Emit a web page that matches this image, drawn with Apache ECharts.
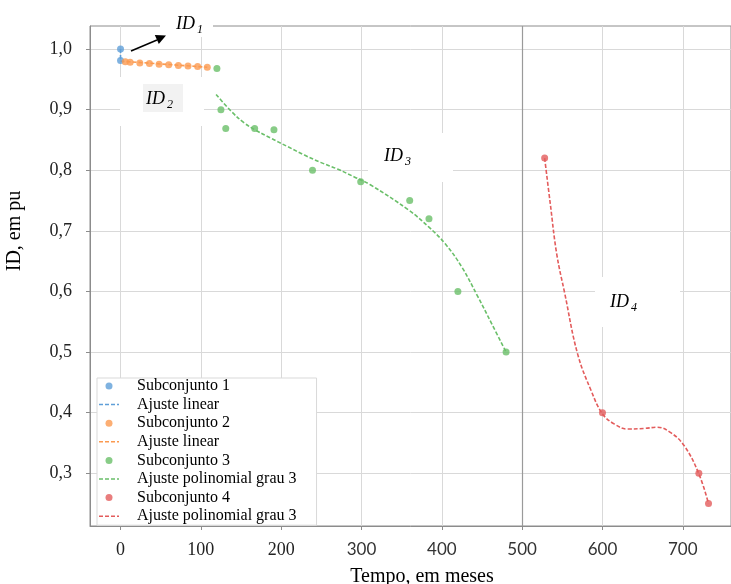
<!DOCTYPE html>
<html>
<head>
<meta charset="utf-8">
<script src="https://cdn.jsdelivr.net/npm/echarts@6/dist/echarts.min.js"></script>
<style>
  html, body { margin: 0; padding: 0; background: #fff; }
  #chart { width: 731px; height: 584px; }
</style>
</head>
<body>
<div id="chart"></div>
<script>
// Subconjunto 1
const sub1X = [0, 0];
const sub1Y = [1.0, 0.981];
const fit1X = [0, 0];
const fit1Y = [1.0, 0.981];

// Subconjunto 2
const sub2X = [6, 12, 24, 36, 48, 60, 72, 84, 96, 108];
const sub2Y = [0.979, 0.978, 0.977, 0.976, 0.975, 0.974, 0.973, 0.972, 0.971, 0.970];
const fit2X = [0, 108];
const fit2Y = [0.980, 0.970];

// Subconjunto 3
const sub3X = [120, 125, 131, 167, 191, 239, 299, 360, 384, 420, 480];
const sub3Y = [0.968, 0.900, 0.869, 0.869, 0.867, 0.800, 0.781, 0.750, 0.720, 0.600, 0.500];
const fit3X = [119, 138, 154, 167, 187, 208, 229, 249, 270, 291, 311, 359, 384, 404, 425, 445, 462, 480];
const fit3Y = [0.925, 0.897, 0.878, 0.867, 0.853, 0.839, 0.825, 0.813, 0.802, 0.789, 0.776, 0.734, 0.706, 0.679, 0.640, 0.591, 0.547, 0.500];

// Subconjunto 4
const sub4X = [528, 600, 720, 732];
const sub4Y = [0.820, 0.400, 0.300, 0.250];
const fit4X = [528, 535, 543, 553, 569, 586, 600, 615, 631, 652, 668, 685, 702, 720, 732];
const fit4Y = [0.820, 0.745, 0.662, 0.597, 0.497, 0.436, 0.398, 0.381, 0.373, 0.374, 0.376, 0.367, 0.345, 0.299, 0.250];

// eixos
const xTicks = [0, 100, 200, 300, 400, 500, 600, 700];
const yTicks = [0.3, 0.4, 0.5, 0.6, 0.7, 0.8, 0.9, 1.0];

const pairs = (xs, ys) => xs.map((x, i) => [x, ys[i]]);

const cBlue = '#5f9fd8';
const cOrange = '#fb9a50';
const cGreen = '#6abf69';
const cRed = '#e35c5c';

const serif = '"Liberation Serif", "Times New Roman", serif';
// icone tracejado da legenda
const dashIcon = 'path://M0,0h4v1.5h-4z M6,0h4v1.5h-4z M12,0h4v1.5h-4z M18,0h2v1.5h-2z';

const scatter = (name, xs, ys, color) => ({
  name, type: 'scatter', data: pairs(xs, ys), symbolSize: 7, z: 3,
  itemStyle: { color }
});
const fit = (name, xs, ys, color, smooth) => ({
  name, type: 'line', data: pairs(xs, ys), symbol: 'none', smooth, z: 2,
  itemStyle: { color },
  lineStyle: { color, width: 1.6, type: [4, 2] }
});

// rotulo ID com subscrito
const idLabel = (left, mid, sub) => [
  { type: 'text', z: 10, x: left, y: mid,
    style: { text: 'ID', font: 'italic 18px ' + serif, fill: '#000', align: 'left', verticalAlign: 'middle' } },
  { type: 'text', z: 10, x: left + 21, y: mid + 6,
    style: { text: sub, font: 'italic 12px ' + serif, fill: '#000', align: 'left', verticalAlign: 'middle' } }
];
const mask = (x, y, w, h, fill) => ({
  type: 'rect', z: 1, shape: { x, y, width: w, height: h }, style: { fill: fill || '#fff' }
});

const chart = echarts.init(document.getElementById('chart'));

const option = {
  animation: false,
  backgroundColor: '#fff',
  grid: {
    left: 90, right: -3, top: 26, bottom: 58,
    show: true, borderColor: '#8c8c8c', borderWidth: 1
  },
  legend: {
    orient: 'vertical',
    left: 97, top: 378,
    padding: [0, 20, 1, 2],
    itemWidth: 20, itemHeight: 7, itemGap: 2.6,
    backgroundColor: '#fff',
    borderColor: '#d9d9d9', borderWidth: 1,
    textStyle: { fontFamily: serif, fontSize: 16, color: '#000', padding: [0, 0, 0, 13] },
    data: [
      { name: 'Subconjunto 1', icon: 'circle' },
      { name: 'Ajuste linear', icon: dashIcon },
      { name: 'Subconjunto 2', icon: 'circle' },
      { name: 'Ajuste linear\u200b', icon: dashIcon },
      { name: 'Subconjunto 3', icon: 'circle' },
      { name: 'Ajuste polinomial grau 3', icon: dashIcon },
      { name: 'Subconjunto 4', icon: 'circle' },
      { name: 'Ajuste polinomial grau 3\u200b', icon: dashIcon }
    ]
  },
  xAxis: {
    type: 'value', min: -38, max: 760,
    axisLine: { onZero: false, lineStyle: { color: '#8c8c8c', width: 1 } },
    axisTick: { show: true, length: 4, customValues: xTicks, lineStyle: { color: '#8c8c8c' } },
    splitLine: { show: true, lineStyle: { color: '#d9d9d9' } },
    axisLabel: {
      customValues: xTicks, margin: 15,
      formatter: v => (v <= 200 ? '{s|' + v + '}' : '{l|' + v + '}'),
      rich: {
        s: { fontFamily: serif, fontSize: 18, color: '#222' },
        l: { fontFamily: 'Lato, sans-serif', fontSize: 17, color: '#333' }
      }
    }
  },
  yAxis: {
    type: 'value', min: 0.213, max: 1.038,
    axisLine: { show: true, onZero: false, lineStyle: { color: '#8c8c8c', width: 1 } },
    axisTick: { show: true, length: 4, customValues: yTicks, lineStyle: { color: '#8c8c8c' } },
    splitLine: { show: true, lineStyle: { color: '#d9d9d9' } },
    axisLabel: {
      customValues: yTicks, margin: 18,
      fontFamily: serif, fontSize: 18, color: '#222',
      formatter: v => v.toFixed(1).replace('.', ',')
    }
  },
  series: [
    scatter('Subconjunto 1', sub1X, sub1Y, cBlue),
    fit('Ajuste linear', fit1X, fit1Y, cBlue, false),
    scatter('Subconjunto 2', sub2X, sub2Y, cOrange),
    fit('Ajuste linear\u200b', fit2X, fit2Y, cOrange, false),
    scatter('Subconjunto 3', sub3X, sub3Y, cGreen),
    Object.assign(fit('Ajuste polinomial grau 3', fit3X, fit3Y, cGreen, 0.4), {
      markLine: {
        silent: true, symbol: 'none', label: { show: false },
        lineStyle: { color: '#9a9a9a', type: 'solid', width: 1.2 },
        data: [{ xAxis: 500 }]
      }
    }),
    scatter('Subconjunto 4', sub4X, sub4Y, cRed),
    fit('Ajuste polinomial grau 3\u200b', fit4X, fit4Y, cRed, 0.4)
  ],
  graphic: [
    mask(160, 4, 53, 33),
    mask(120, 77, 84, 49),
    mask(143, 84, 40, 28, '#f2f2f2'),
    mask(368, 133, 85, 49),
    mask(595, 277, 85, 50),
    ...idLabel(176, 24, '1'),
    ...idLabel(146, 99, '2'),
    ...idLabel(384, 156, '3'),
    ...idLabel(610, 302, '4'),
    // seta ID1
    { type: 'line', z: 10, shape: { x1: 131, y1: 51, x2: 157, y2: 40 },
      style: { stroke: '#000', lineWidth: 1.5 } },
    { type: 'polygon', z: 10, shape: { points: [[166, 35.5], [158.8, 44.1], [154.8, 34.9]] },
      style: { fill: '#000' } },
    // titulos dos eixos
    { type: 'text', z: 10, x: 15, y: 231, rotation: Math.PI / 2,
      style: { text: 'ID, em pu', font: '20px ' + serif, fill: '#000', align: 'center', verticalAlign: 'middle' } },
    { type: 'text', z: 10, x: 422, y: 577,
      style: { text: 'Tempo, em meses', font: '20px ' + serif, fill: '#000', align: 'center', verticalAlign: 'middle' } }
  ]
};

chart.setOption(option);
</script>
</body>
</html>
